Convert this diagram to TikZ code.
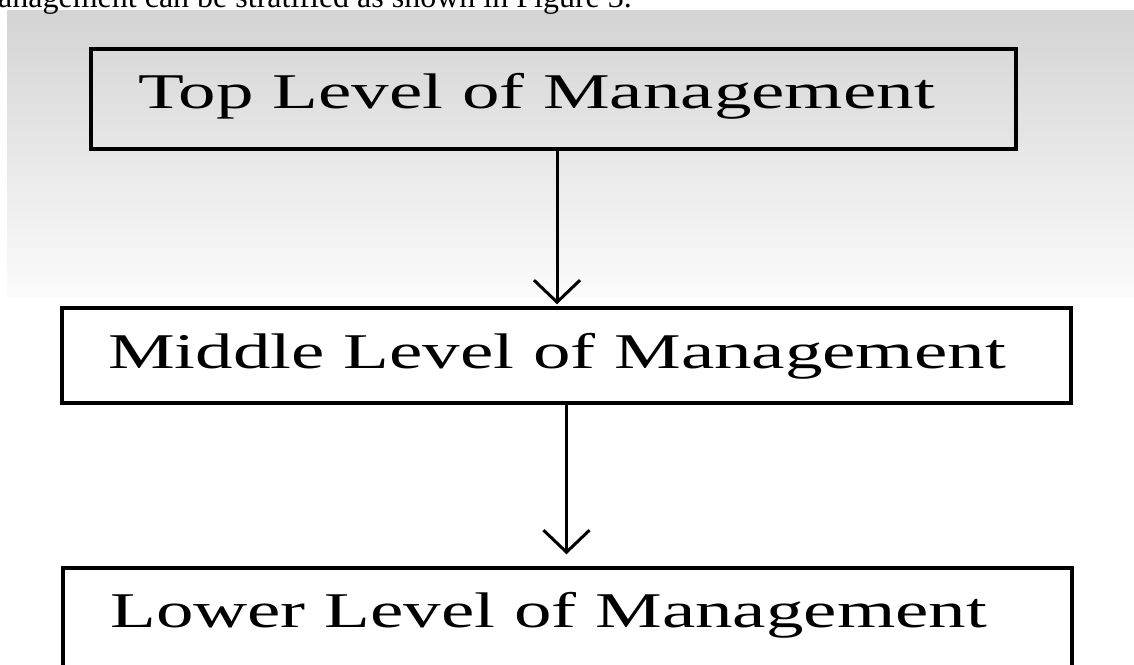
\documentclass[tikz,border=0pt]{standalone}
\usepackage{fontspec}
\usetikzlibrary{arrows.meta}
\setmainfont{Liberation Serif}
\newfontfamily\widefont[FakeStretch=1.5]{Liberation Serif}

\tikzset{
  levelbox/.style={draw=black, line width=3.5pt, inner sep=0pt, rectangle},
  leveltext/.style={anchor=base west, inner sep=0pt, text=black,
    font=\widefont\fontsize{50}{60}\selectfont},
  flow/.style={draw=black, line width=3pt,
    -{Straight Barb[length=22pt, width=46pt]}},
}

\begin{document}
\begin{tikzpicture}[x=1pt, y=-1pt]
  \useasboundingbox (0,0) rectangle (1134,664);
  \clip (0,0) rectangle (1134,664);
  \fill[white] (0,0) rectangle (1134,664);

  % grey band behind the upper part of the chart
  \shade[top color=black!17, bottom color=black!1.5]
    (7,10) rectangle (1134,297);

  % running text above the figure
  \node[anchor=base east, inner sep=0pt, font=\fontsize{32}{38}\selectfont]
    (caption) at (632,7) {Management can be stratified as shown in Figure 3.};

  % the three levels
  \node[levelbox, minimum width=925pt, minimum height=100pt]
    (top) at (553.5,99) {};
  \node[levelbox, fill=white, minimum width=1009pt, minimum height=95pt]
    (mid) at (566.5,355.5) {};
  \node[levelbox, fill=white, minimum width=1009pt, minimum height=130pt]
    (low) at (567.5,633) {};

  \node[leveltext] (toptext) at (138,108) {Top Level of Management};
  \node[leveltext] (midtext) at (108,368) {Middle Level of Management};
  \node[leveltext] (lowtext) at (110,627) {Lower Level of Management};

  % connectors
  \draw[flow, shorten >=2pt] ([xshift=3.5pt]top.south) -- ([xshift=-9.5pt]mid.north);
  \draw[flow, shorten >=12pt] (mid.south) -- ([xshift=-1pt]low.north);
\end{tikzpicture}
\end{document}
